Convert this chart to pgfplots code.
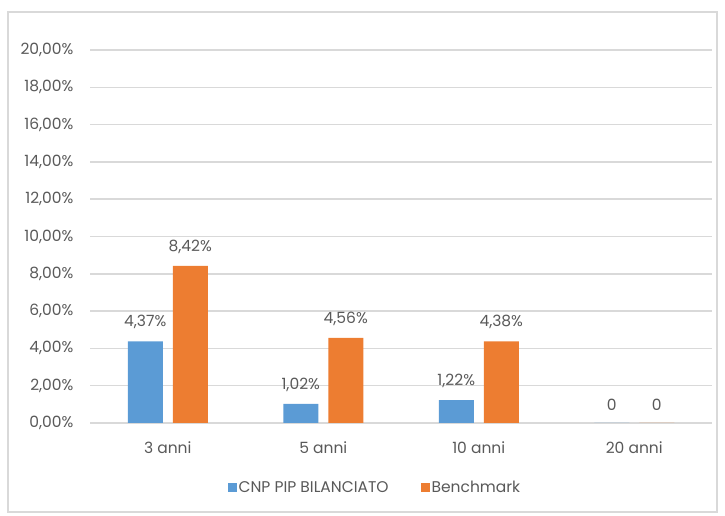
\documentclass[border=0pt]{standalone}
\usepackage{pgfplots}
\pgfplotsset{compat=1.18}
\usepackage{fontspec}
\setmainfont{Poppins}
\definecolor{cblue}{HTML}{5B9BD5}
\definecolor{corange}{HTML}{ED7D31}
\definecolor{tgray}{HTML}{595959}
\definecolor{ggray}{HTML}{D9D9D9}
\begin{document}
\begin{tikzpicture}[x=1pt,y=1pt]
\useasboundingbox (0,0) rectangle (725,516);
\draw[ggray,line width=1.5pt] (8,4) rectangle (717,504);
\begin{axis}[
  at={(90pt,93pt)}, anchor=south west,
  scale only axis, width=622pt, height=373pt,
  xmin=-0.5, xmax=3.5, ymin=0, ymax=20,
  ybar=10pt, bar width=35pt,
  xtick={0,1,2,3}, xticklabels={3 anni,5 anni,10 anni,20 anni},
  ytick={0,2,...,20},
  yticklabel={\pgfmathprintnumber[fixed,fixed zerofill,precision=2,use comma]{\tick}\%},
  /pgf/number format/assume math mode=true,
  ymajorgrids, grid style={ggray,line width=1.5pt},
  axis line style={draw=none},
  major tick length=0pt,
  tick label style={font=\fontsize{15.5}{17}\selectfont, text=tgray},
  xticklabel style={yshift=-15pt},
  yticklabel style={xshift=-13pt},
  point meta=explicit symbolic,
  nodes near coords,
  every node near coord/.append style={font=\fontsize{15.5}{17}\selectfont, text=tgray, yshift=9pt},
  legend style={at={(0.458,-0.174)}, anchor=center, draw=none, legend columns=2,
    font=\fontsize{15.5}{17}\selectfont, text=tgray,
    /tikz/every even column/.append style={column sep=30pt}},
  legend image code/.code={\fill[#1] (0pt,-4.5pt) rectangle (9pt,4.5pt);},
]
\addplot[fill=cblue, draw=none] coordinates {(0,4.37) [{4,37\%}] (1,1.02) [{1,02\%}] (2,1.22) [{1,22\%}] (3,0) [0]};
\addplot[fill=corange, draw=none] coordinates {(0,8.42) [{8,42\%}] (1,4.56) [{4,56\%}] (2,4.38) [{4,38\%}] (3,0) [0]};
\legend{CNP PIP BILANCIATO, Benchmark}
\end{axis}
\end{tikzpicture}
\end{document}
